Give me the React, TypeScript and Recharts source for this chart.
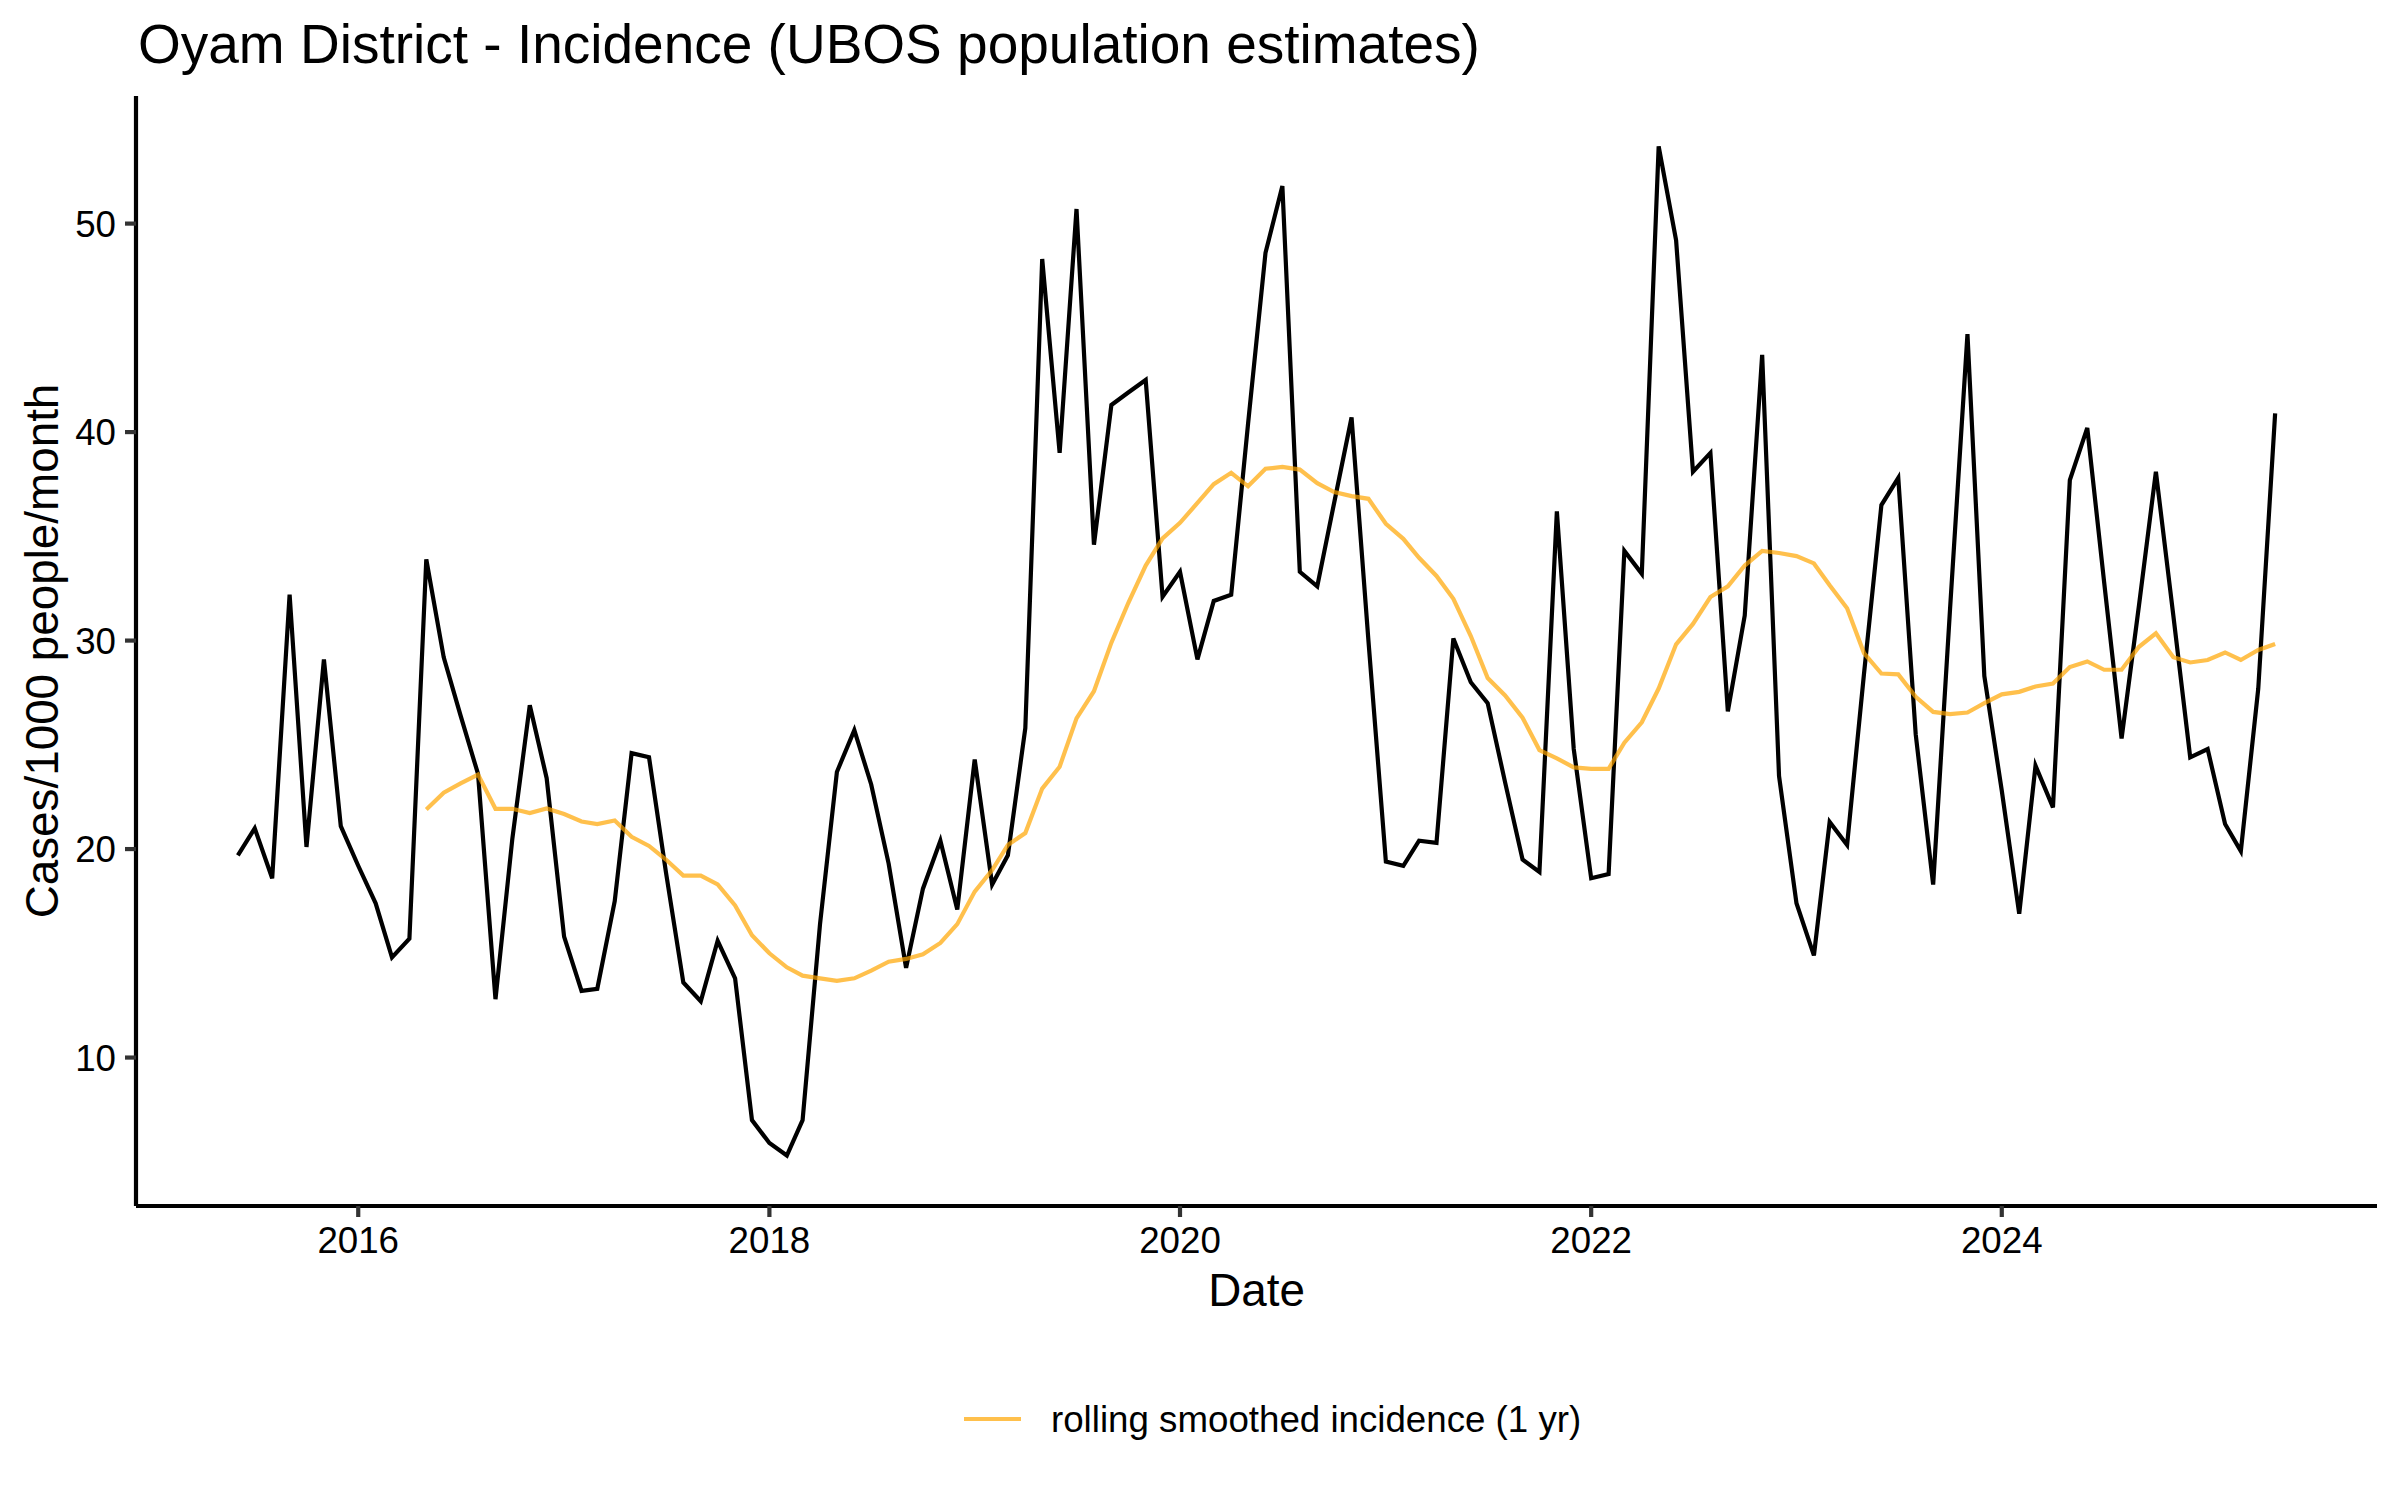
import React from 'react';
import { LineChart, Line, XAxis, YAxis, Legend } from 'recharts';

const FONT = '"Liberation Sans", Arial, Helvetica, sans-serif';

// Monthly series start (June 2015) and rolling series start (May 2016)
const START_YEAR = 2015;
const START_MONTH = 6;
const ROLLING_START_YEAR = 2016;
const ROLLING_START_MONTH = 5;

// Cases/1000 people/month, Jun 2015 .. May 2025
const incidence = [
  19.7, 21.0, 18.6, 32.2, 20.1, 29.1, 21.1,
  19.2, 17.4, 14.8, 15.7, 33.9, 29.2, 26.4, 23.6, 12.8, 20.5, 26.9, 23.4,
  15.8, 13.2, 13.3, 17.5, 24.6, 24.4, 18.9, 13.6, 12.7, 15.6, 13.8, 7.0,
  5.9, 5.3, 7.0, 16.4, 23.7, 25.7, 23.1, 19.3, 14.3, 18.1, 20.4, 17.1,
  24.3, 18.3, 19.7, 25.8, 48.3, 39.0, 50.7, 34.6, 41.3, 41.9, 42.5, 32.1,
  33.3, 29.1, 31.9, 32.2, 40.4, 48.6, 51.8, 33.3, 32.6, 36.6, 40.7, 30.0,
  19.4, 19.2, 20.4, 20.3, 30.1, 28.0, 27.0, 23.2, 19.5, 18.9, 36.2, 24.8,
  18.6, 18.8, 34.3, 33.2, 53.7, 49.2, 38.1, 39.0, 26.6, 31.2, 43.7, 23.5,
  17.4, 14.9, 21.3, 20.2, 28.4, 36.5, 37.8, 25.5, 18.3, 31.5, 44.7, 28.3,
  22.8, 16.9, 24.0, 22.0, 37.7, 40.2, 32.8, 25.3, 31.7, 38.1, 31.2, 24.4,
  24.8, 21.2, 19.9, 27.7, 40.9,
];

// rolling smoothed incidence (1 yr), May 2016 .. May 2025
const rolling = [
  21.9, 22.7, 23.15, 23.57, 21.93, 21.93, 21.73, 21.95,
  21.68, 21.32, 21.2, 21.37, 20.59, 20.15, 19.5, 18.73, 18.73, 18.3, 17.3, 15.87,
  15.0, 14.33, 13.93, 13.8, 13.68, 13.8, 14.17, 14.6, 14.73, 14.95, 15.5, 16.4,
  17.96, 18.99, 20.2, 20.77, 22.9, 23.95, 26.27, 27.57, 29.9, 31.8, 33.6, 34.9,
  35.65, 36.6, 37.5, 38.05, 37.4, 38.24, 38.33, 38.2, 37.55, 37.12, 36.93, 36.8,
  35.6, 34.88, 33.97, 33.1, 32.0, 30.22, 28.2, 27.37, 26.3, 24.75, 24.35, 23.92,
  23.85, 23.85, 25.1, 26.08, 27.7, 29.82, 30.8, 32.09, 32.6, 33.6, 34.3, 34.2,
  34.05, 33.7, 32.65, 31.55, 29.4, 28.42, 28.38, 27.3, 26.58, 26.47, 26.55, 27.0,
  27.42, 27.54, 27.8, 27.94, 28.73, 29.0, 28.6, 28.6, 29.7, 30.35, 29.2, 28.95,
  29.07, 29.43, 29.07, 29.55, 29.84,
];

const xTickYears = [2016, 2018, 2020, 2022, 2024];
const yTicks = [10, 20, 30, 40, 50];

const TITLE = 'Oyam District - Incidence (UBOS population estimates)';
const X_TITLE = 'Date';
const Y_TITLE = 'Cases/1000 people/month';
const ROLLING_NAME = 'rolling smoothed incidence (1 yr)';

const ORANGE = '#FFA500';
const ORANGE_ALPHA = 0.7;
const LW = 4.2;

const rollingOffset =
  (ROLLING_START_YEAR - START_YEAR) * 12 + (ROLLING_START_MONTH - START_MONTH);

const data = incidence.map((v, i) => {
  const k = START_MONTH - 1 + i;
  const y = START_YEAR + Math.floor(k / 12);
  const m = k % 12;
  const ri = i - rollingOffset;
  return {
    t: Date.UTC(y, m, 1),
    incidence: v,
    rolling: ri >= 0 && ri < rolling.length ? rolling[ri] : null,
  };
});

const tMin = data[0].t;
const tMax = data[data.length - 1].t;
const tPad = (tMax - tMin) * 0.05;
const allY = [...incidence, ...rolling];
const yMin = Math.min(...allY);
const yMax = Math.max(...allY);
const yPad = (yMax - yMin) * 0.05;

const xTicks = xTickYears.map((yr) => Date.UTC(yr, 0, 1));

const YLabel = (props: any) => {
  const vb = props.viewBox || { x: 0, y: 96, width: 136, height: 1110 };
  const cx = 58;
  const cy = vb.y + vb.height / 2;
  return (
    <text
      x={cx}
      y={cy}
      transform={`rotate(-90 ${cx} ${cy})`}
      textAnchor="middle"
      fontSize={45.8}
      fontFamily={FONT}
      fill="#000"
    >
      {Y_TITLE}
    </text>
  );
};

const XLabel = (props: any) => {
  const vb = props.viewBox || { x: 136, y: 1206, width: 2241, height: 120 };
  return (
    <text
      x={vb.x + vb.width / 2}
      y={1306}
      textAnchor="middle"
      fontSize={45.8}
      fontFamily={FONT}
      fill="#000"
    >
      {X_TITLE}
    </text>
  );
};

const LegendContent = (props: any) => {
  const items = (props.payload || []).filter((p: any) => p.type !== 'none');
  const item = items[0];
  const label = item ? item.value : ROLLING_NAME;
  return (
    <svg width={2400} height={80} style={{ display: 'block' }}>
      <line
        x1={964}
        x2={1021}
        y1={40}
        y2={40}
        stroke={ORANGE}
        strokeOpacity={ORANGE_ALPHA}
        strokeWidth={LW}
      />
      <text x={1051} y={40} dy="0.355em" fontSize={36.7} fontFamily={FONT} fill="#000">
        {label}
      </text>
    </svg>
  );
};

export default function App() {
  return (
    <div
      style={{
        position: 'absolute',
        left: 0,
        top: 0,
        width: 2400,
        height: 1500,
        background: '#fff',
        fontFamily: FONT,
      }}
    >
      <LineChart
        width={2400}
        height={1500}
        data={data}
        margin={{ top: 96, right: 23, bottom: 174, left: 0 }}
      >
        <XAxis
          dataKey="t"
          type="number"
          scale="time"
          domain={[tMin - tPad, tMax + tPad]}
          ticks={xTicks}
          tickFormatter={(t: number) => String(new Date(t).getUTCFullYear())}
          height={120}
          allowDataOverflow
          axisLine={{ stroke: '#000', strokeWidth: LW }}
          tickLine={{ stroke: '#333', strokeWidth: LW }}
          tickSize={11}
          tickMargin={10}
          tick={{ fontSize: 36.7, fill: '#000', fontFamily: FONT }}
          label={<XLabel />}
        />
        <YAxis
          type="number"
          domain={[yMin - yPad, yMax + yPad]}
          ticks={yTicks}
          width={136}
          allowDataOverflow
          axisLine={{ stroke: '#000', strokeWidth: LW }}
          tickLine={{ stroke: '#333', strokeWidth: LW }}
          tickSize={11}
          tickMargin={9}
          tick={{ fontSize: 36.7, fill: '#000', fontFamily: FONT }}
          label={<YLabel />}
        />
        <Line
          type="linear"
          dataKey="incidence"
          stroke="#000"
          strokeWidth={LW}
          dot={false}
          activeDot={false}
          legendType="none"
          isAnimationActive={false}
        />
        <Line
          type="linear"
          dataKey="rolling"
          name={ROLLING_NAME}
          stroke={ORANGE}
          strokeOpacity={ORANGE_ALPHA}
          strokeWidth={LW}
          dot={false}
          activeDot={false}
          legendType="plainline"
          isAnimationActive={false}
        />
        <Legend
          verticalAlign="middle"
          align="center"
          layout="horizontal"
          content={<LegendContent />}
          wrapperStyle={{ position: 'absolute', left: 0, top: 1379, width: 2400, height: 80 }}
        />
      </LineChart>
      <svg
        width={2400}
        height={96}
        style={{ position: 'absolute', left: 0, top: 0, pointerEvents: 'none' }}
      >
        <text x={138} y={62.5} fontSize={55} fontFamily={FONT} fill="#000">
          {TITLE}
        </text>
      </svg>
    </div>
  );
}
